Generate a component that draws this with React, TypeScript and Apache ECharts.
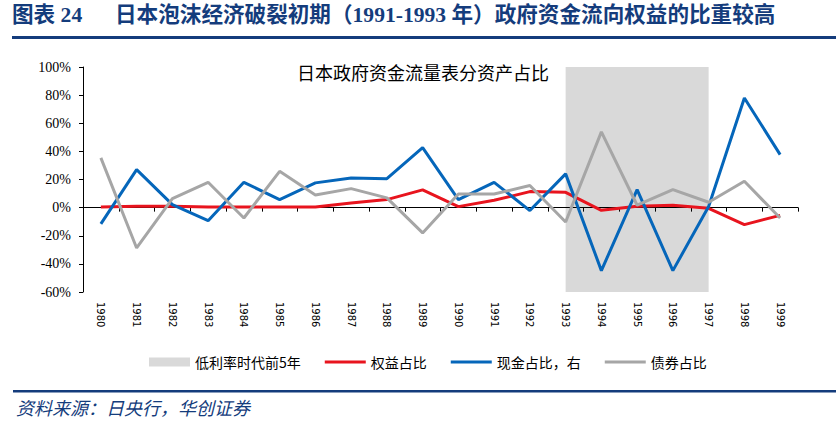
import React, { useEffect, useRef } from "react";
import * as echarts from "echarts";

const years = ["1980","1981","1982","1983","1984","1985","1986","1987","1988","1989","1990","1991","1992","1993","1994","1995","1996","1997","1998","1999"];
const equityShare = [0.5, 1, 1, 0.5, 0.5, 0.5, 0.5, 3.3, 5.7, 12.6, 0.7, 5.2, 11.4, 10.9, -1.9, 0.9, 1.7, -0.5, -12.1, -5.5];
const cashShare = [-11.6, 27, 2.1, -9.3, 18, 5.7, 17.6, 21, 20.6, 42.7, 5.7, 18, -2.1, 24, -44.8, 12.8, -44.8, 0.8, 78, 37.7];
const bondShare = [35.4, -28.7, 6.4, 18, -7.4, 25.8, 9, 13.5, 6.9, -18, 9.7, 9.7, 15.7, -10.2, 53.9, 1.7, 12.8, 3.8, 18.7, -7.4];
const lowRateStart = "1993";
const lowRateEnd = "1997";
const yMin = -60;
const yMax = 100;
const yStep = 20;

const NAVY = "#143c7c";
const GRID = { left: 83, right: 38, top: 67, height: 225 };
const LINE_ICON = "path://M0,0L41,0L41,3L0,3Z";

export default function App() {
  const ref = useRef<HTMLDivElement>(null);
  useEffect(() => {
    const chart = echarts.init(ref.current!, null, { renderer: "svg" });
    const cjk = "'Liberation Serif', 'Noto Sans CJK SC', serif";
    chart.setOption({
      animation: false,
      backgroundColor: "#ffffff",
      grid: [
        { ...GRID, containLabel: false },
        { ...GRID, containLabel: false },
      ],
      legend: {
        left: 144,
        top: 350,
        itemWidth: 41,
        itemHeight: 9,
        itemGap: 24,
        textStyle: { fontFamily: "'Noto Sans CJK SC'", fontSize: 14, color: "#000" },
        data: [
          { name: "低利率时代前5年", icon: "rect", itemStyle: { color: "#D9D9D9" } },
          { name: "权益占比", icon: LINE_ICON },
          { name: "现金占比，右", icon: LINE_ICON },
          { name: "债券占比", icon: LINE_ICON },
        ],
      },
      xAxis: [
        {
          type: "category",
          gridIndex: 0,
          data: years,
          boundaryGap: true,
          axisLine: { show: false, onZero: false },
          axisTick: { show: false },
          axisLabel: {
            rotate: -90,
            margin: 10,
            fontFamily: "'DejaVu Sans'",
            fontSize: 10,
            color: "#000",
            interval: 0,
          },
          splitLine: { show: false },
        },
        {
          type: "category",
          gridIndex: 1,
          data: years,
          boundaryGap: true,
          z: 1,
          axisLine: { show: true, onZero: true, lineStyle: { color: "#000", width: 1 } },
          axisTick: { show: true, length: 4, interval: 0, lineStyle: { color: "#000" } },
          axisLabel: { show: false },
          splitLine: { show: false },
        },
      ],
      yAxis: [
        {
          type: "value",
          gridIndex: 0,
          min: yMin,
          max: yMax,
          interval: yStep,
          axisLine: { show: true, lineStyle: { color: "#000" } },
          axisTick: { show: true, length: 4, lineStyle: { color: "#000" } },
          axisLabel: {
            margin: 12,
            fontFamily: "'Liberation Serif'",
            fontSize: 14,
            color: "#000",
            formatter: (v: number) => `${v}%`,
          },
          splitLine: { show: false },
        },
        {
          type: "value",
          gridIndex: 1,
          min: yMin,
          max: yMax,
          interval: yStep,
          show: false,
          splitLine: { show: false },
        },
      ],
      graphic: [
        {
          type: "text",
          left: 12,
          top: 4,
          style: { text: "图表 24", font: `bold 21.6px ${cjk}`, fill: NAVY },
        },
        {
          type: "text",
          left: 115,
          top: 4,
          style: {
            text: "日本泡沫经济破裂初期（1991-1993 年）政府资金流向权益的比重较高",
            font: `bold 21.6px ${cjk}`,
            fill: NAVY,
          },
        },
        {
          type: "rect",
          shape: { x: 12, y: 36, width: 824, height: 3 },
          style: { fill: NAVY },
        },
        {
          type: "text",
          left: 297,
          top: 63,
          style: { text: "日本政府资金流量表分资产占比", font: "18px 'Noto Sans CJK SC'", fill: "#000" },
        },
        {
          type: "rect",
          shape: { x: 13, y: 390, width: 823, height: 2.5 },
          style: { fill: NAVY },
        },
        {
          type: "text",
          left: 16,
          top: 398,
          style: {
            text: "资料来源：日央行，华创证券",
            font: "italic 18px 'Noto Sans CJK SC'",
            fill: NAVY,
          },
        },
      ],
      series: [
        {
          name: "低利率时代前5年",
          type: "line",
          xAxisIndex: 0,
          yAxisIndex: 0,
          data: [],
          z: 0,
          color: "#D9D9D9",
          markArea: {
            silent: true,
            itemStyle: { color: "#D9D9D9" },
            data: [[{ xAxis: lowRateStart }, { xAxis: lowRateEnd }]],
          },
        },
        {
          name: "权益占比",
          type: "line",
          data: equityShare,
          symbol: "none",
          color: "#E8141E",
          lineStyle: { width: 3, color: "#E8141E" },
          z: 3,
        },
        {
          name: "现金占比，右",
          type: "line",
          data: cashShare,
          symbol: "none",
          color: "#0566BA",
          lineStyle: { width: 3, color: "#0566BA" },
          z: 3,
        },
        {
          name: "债券占比",
          type: "line",
          data: bondShare,
          symbol: "none",
          color: "#A6A6A6",
          lineStyle: { width: 3, color: "#A6A6A6" },
          z: 3,
        },
      ],
    });
    return () => chart.dispose();
  }, []);
  return (
    <div
      ref={ref}
      style={{ position: "absolute", left: 0, top: 0, width: 836, height: 426, background: "#fff" }}
    />
  );
}
